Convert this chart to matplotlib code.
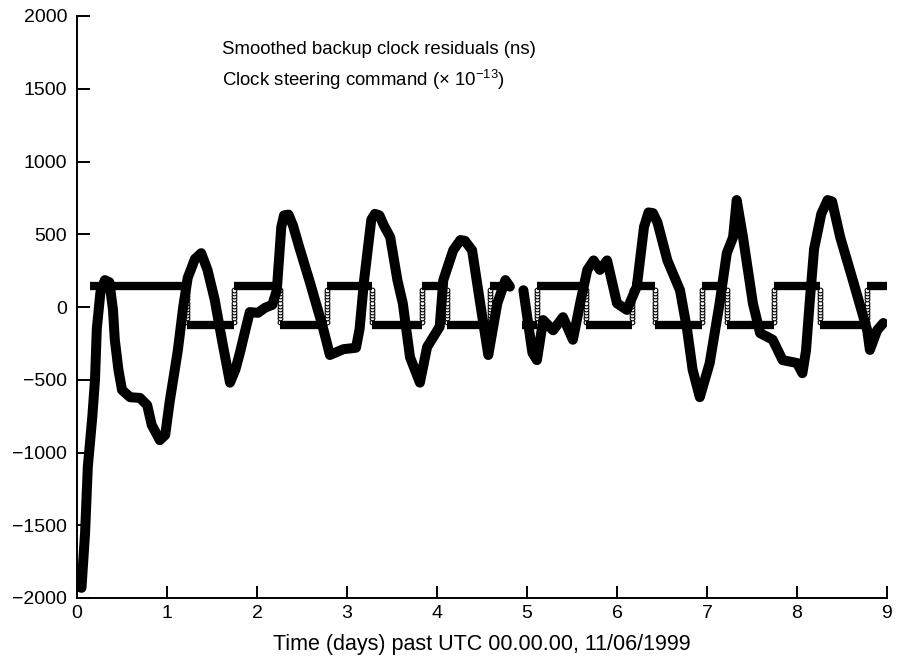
import numpy as np
import matplotlib
matplotlib.use("Agg")
import matplotlib.pyplot as plt

plt.rcParams['font.family'] = ['Liberation Sans', 'DejaVu Sans']
plt.rcParams['mathtext.fontset'] = 'custom'
plt.rcParams['mathtext.rm'] = 'Liberation Sans'
plt.rcParams['mathtext.it'] = 'Liberation Sans:italic'

# Smoothed backup clock residuals (ns); NaN marks the data gap near day 4.9
resid_days = [0.02, 0.03, 0.05, 0.09, 0.12, 0.17, 0.20, 0.22, 0.26, 0.31, 0.36, 0.40,
              0.42, 0.46, 0.50, 0.59, 0.70, 0.78, 0.83, 0.92, 0.98, 1.03, 1.12, 1.18,
              1.23, 1.31, 1.38, 1.45, 1.53, 1.61, 1.70, 1.76, 1.81, 1.87, 1.92, 2.01,
              2.09, 2.17, 2.22, 2.27, 2.30, 2.35, 2.40, 2.47, 2.59, 2.73, 2.81, 2.96,
              3.10, 3.14, 3.19, 3.27, 3.31, 3.36, 3.41, 3.48, 3.56, 3.62, 3.70, 3.81,
              3.89, 4.03, 4.07, 4.18, 4.26, 4.31, 4.39, 4.48, 4.57, 4.67, 4.76, 4.81,
              4.88,
              4.96, 5.06, 5.11, 5.18, 5.29, 5.40, 5.51, 5.59, 5.67, 5.74, 5.81, 5.89,
              6.00, 6.11, 6.22, 6.30, 6.35, 6.40, 6.45, 6.56, 6.70, 6.78, 6.84, 6.92,
              7.03, 7.14, 7.22, 7.29, 7.33, 7.40, 7.51, 7.59, 7.67, 7.73, 7.84, 8.00,
              8.06, 8.10, 8.14, 8.19, 8.27, 8.34, 8.39, 8.48, 8.62, 8.78, 8.81, 8.89,
              8.96]
resid_ns = [-1880, -1925, -1930, -1550, -1100, -755, -500, -150, 100, 185, 170, -20,
            -225, -430, -570, -620, -625, -675, -810, -915, -880, -650, -300, 0,
            200, 330, 370, 255, 50, -225, -520, -430, -315, -160, -35, -40,
            -5, 15, 115, 550, 630, 635, 560, 410, 165, -135, -330, -290,
            -280, -150, 185, 600, 640, 630, 560, 480, 185, 25, -345, -520,
            -275, -135, 185, 390, 460, 455, 390, 25, -330, 25, 185, 140,
            np.nan,
            115, -315, -365, -90, -160, -70, -225, 25, 255, 320, 255, 320,
            25, -20, 140, 550, 650, 645, 580, 320, 115, -160, -430, -620,
            -385, 25, 370, 480, 735, 480, 25, -180, -205, -225, -365, -385,
            -455, -300, 25, 400, 640, 735, 725, 480, 185, -160, -295, -160,
            -110]

# Clock steering command (x 1e-13): switching times and the level held in between
steer_run1_edges = [0.14, 1.22, 1.74, 2.26, 2.78, 3.28, 3.83, 4.11, 4.59, 4.81]
steer_run1_levels = [143, -125, 143, -125, 143, -125, 143, -125, 143]
steer_run2_edges = [4.94, 5.11, 5.66, 6.17, 6.42, 6.94, 7.22, 7.74, 8.26, 8.78, 9.0]
steer_run2_levels = [-125, 143, -125, 143, -125, 143, -125, 143, -125, 143]

x_ticks = [0, 1, 2, 3, 4, 5, 6, 7, 8, 9]
y_ticks = [-2000, -1500, -1000, -500, 0, 500, 1000, 1500, 2000]

fig = plt.figure(figsize=(8.98, 6.58), dpi=100)
ax = fig.add_axes([77 / 898, 60 / 658, 810 / 898, 582 / 658])

# steering command: thick held levels, chained thin marks at each switch
for edges, levels in ((steer_run1_edges, steer_run1_levels),
                      (steer_run2_edges, steer_run2_levels)):
    for i, lev in enumerate(levels):
        ax.plot([edges[i], edges[i + 1]], [lev, lev], color='black', lw=6.0,
                solid_capstyle='butt', zorder=2)
    for i in range(1, len(levels)):
        lo, hi = sorted((levels[i - 1], levels[i]))
        ys = np.linspace(lo + 25, hi - 25, 11)
        ax.plot(np.full_like(ys, edges[i]), ys, ls='none', marker='o', ms=3.4,
                mfc='white', mec='black', mew=0.8, zorder=1)

# residuals
ax.plot(resid_days, resid_ns, color='black', lw=7.2, solid_joinstyle='round',
        solid_capstyle='round', zorder=3)

ax.set_xlim(0, 9)
ax.set_ylim(-2000, 2000)
ax.set_xticks(x_ticks)
ax.set_yticks(y_ticks)
ax.tick_params(direction='in', length=9, width=1.4, labelsize=14, colors='black')
ax.tick_params(axis='y', pad=7)
ax.tick_params(axis='x', pad=5)
for side in ('top', 'right'):
    ax.spines[side].set_visible(False)
for side in ('left', 'bottom'):
    ax.spines[side].set_linewidth(1.4)

ax.set_xlabel('Time (days) past UTC 00.00.00, 11/06/1999', fontsize=15.5, labelpad=9)

ax.text(1.61, 1770, 'Smoothed backup clock residuals (ns)', fontsize=13.4, va='center')
ax.text(1.61, 1560, 'Clock steering command (× 10$^{\\mathrm{-13}}$)', fontsize=13.4,
        va='center')

fig.savefig('out.png', dpi=100)
